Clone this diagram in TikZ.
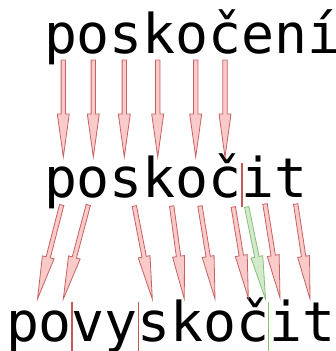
\documentclass[tikz,border=0pt]{standalone}
\usepackage{fontspec}
\newfontfamily\wordfont{DejaVu Sans Mono}
\usetikzlibrary{calc}
\definecolor{arrfillred}{HTML}{F9CACA}
\definecolor{arrlinered}{HTML}{C8605F}
\definecolor{arrfillgreen}{HTML}{D2EACB}
\definecolor{arrlinegreen}{HTML}{84C174}
\definecolor{cutred}{HTML}{C45A58}
\definecolor{cutgreen}{HTML}{84C174}
\tikzset{
  word/.style={anchor=base west, inner sep=0pt, outer sep=0pt,
    font=\wordfont\fontsize{54.8}{60}\selectfont},
  redarrow/.style={draw=arrlinered, fill=arrfillred, line width=0.8pt, line join=miter},
  greenarrow/.style={draw=arrfillgreen!0!arrlinegreen, fill=arrfillgreen, line width=0.8pt, line join=miter},
  redcut/.style={draw=cutred, line width=1.4pt},
  greencut/.style={draw=cutgreen, line width=1.4pt},
}
% slim block arrow from #2 to #3 (tip), drawn with style #1
\newcommand\mapto[3]{%
  \coordinate (hb) at ($(#3)!43pt!(#2)$);
  \draw[#1] ($(#2)!2.2pt!90:(#3)$) -- ($(hb)!2.2pt!90:(#3)$) -- ($(hb)!6pt!90:(#3)$)
    -- (#3) -- ($(hb)!6pt!-90:(#3)$) -- ($(hb)!2.2pt!-90:(#3)$)
    -- ($(#2)!2.2pt!-90:(#3)$) -- cycle;
}
\begin{document}
\begin{tikzpicture}[x=1pt,y=-1pt]
\useasboundingbox (0,0) rectangle (336,351);

% the three word forms
\node[word] (noun) at (44,53) {poskočení};
\node[word] (verb) at (44,197) {poskočit};
\node[word] (deriv) at (6,341) {povyskočit};

% ends of the letter mappings
\foreach \i/\x in {1/63.3,2/93.3,3/124.3,4/157.7,5/195.7,6/225}{
  \coordinate (a\i) at (\x,60);
  \coordinate (b\i) at (\x,157);
}
\foreach \i/\xs/\ys/\xt/\yt in {1/61.7/205/37.5/299, 2/88.3/205/63.3/299,
    3/134.3/206/152.3/299, 4/171.7/206/184.3/299, 5/200/206/215/299,
    6/233.3/207/248.3/298, 7/265/204/280/298, 8/295.7/204/310/299}{
  \coordinate (c\i) at (\xs,\ys);
  \coordinate (d\i) at (\xt,\yt);
}
\coordinate (cg) at (246.7,207);
\coordinate (dg) at (265.5,299);

% morpheme boundaries
\coordinate (m1t) at (242,163); \coordinate (m1b) at (242,207);
\coordinate (m2t) at (72,302);  \coordinate (m2b) at (72,351);
\coordinate (m3t) at (138.3,302); \coordinate (m3b) at (138.3,351);
\coordinate (m4t) at (268.5,302); \coordinate (m4b) at (268.5,351);
\draw[redcut] (m1t) -- (m1b);
\draw[redcut] (m2t) -- (m2b);
\draw[redcut] (m3t) -- (m3b);
\draw[greencut] (m4t) -- (m4b);

% letter mappings
\foreach \i in {1,...,6}{ \mapto{redarrow}{a\i}{b\i} }
\foreach \i in {1,...,8}{ \mapto{redarrow}{c\i}{d\i} }
\mapto{greenarrow}{cg}{dg}
\end{tikzpicture}
\end{document}
